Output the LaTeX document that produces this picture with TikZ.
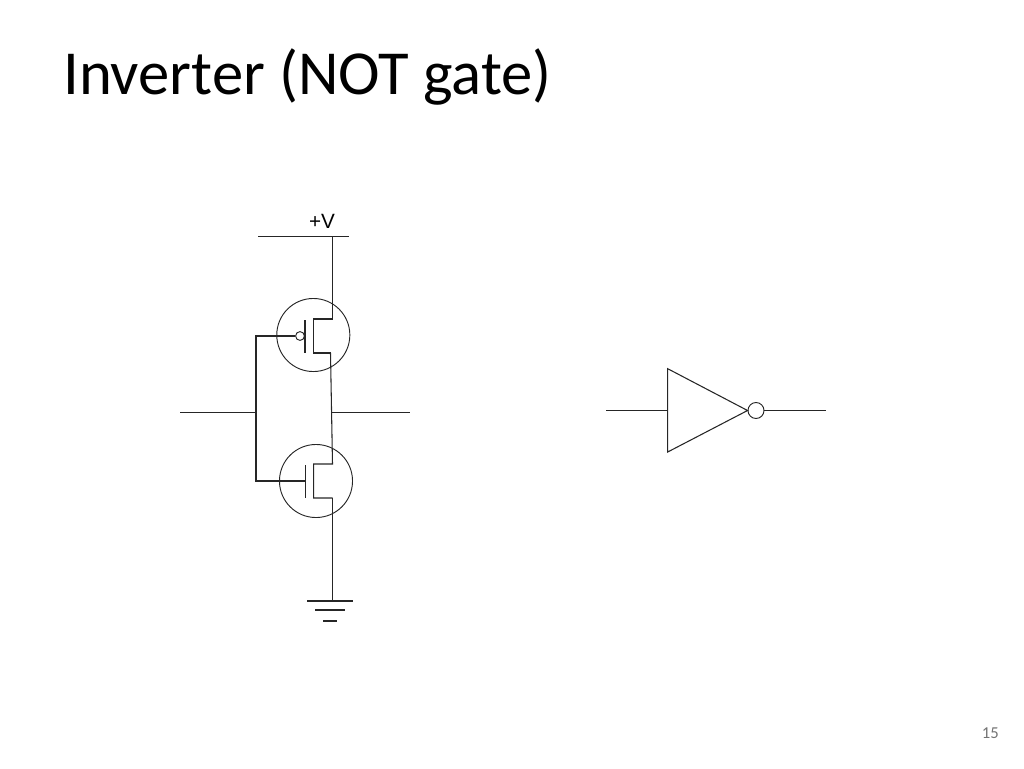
\documentclass[tikz,border=0pt]{standalone}
\usepackage{fontspec}
\setmainfont{Carlito}
\newfontfamily\labelfont{Liberation Sans}
\tikzset{
    wire/.style={line width=.8pt, color=black!85},
    mosring/.style={circle, draw, line width=.7pt, color=black!85, minimum size=54.8pt, inner sep=0pt},
    bubble/.style={circle, draw, line width=.7pt, color=black!85, inner sep=0pt}
}
\begin{document}
\begin{tikzpicture}[x=.75pt, y=-.75pt]
\useasboundingbox (0,0) rectangle (1024,768);

\node[anchor=base west, font=\fontsize{47}{56}\selectfont, inner sep=0pt] (title) at (63,94) {Inverter (NOT gate)};
\node[anchor=base east, font=\fontsize{12.5}{15}\selectfont, color=black!55, inner sep=0pt] (pagenum) at (999,738) {15};
\node[font=\labelfont\fontsize{15.5}{18}\selectfont, inner sep=0pt] (vlabel) at (322,221) {+V};

% supply rail
\coordinate (railL) at (258,236.5);
\coordinate (railR) at (349,236.5);
\coordinate (railT) at (332.5,236.5);
\draw[wire] (railL) -- (railR);

% upper transistor
\node[mosring] (ringP) at (313.3,335) {};
\node[bubble, minimum size=6.6pt] (bubP) at (300,336) {};
\coordinate (barPt) at (305,320);
\coordinate (barPb) at (305,353);
\coordinate (drainPa) at (313.5,319);
\coordinate (drainPb) at (332.5,319);
\coordinate (srcPa) at (313.5,353);
\coordinate (srcPb) at (330.5,353);
\draw[wire] (barPt) -- (barPb);
\draw[wire] (railT) -- (drainPb) -- (drainPa) -- (srcPa) -- (srcPb);

% lower transistor
\node[mosring] (ringN) at (316,481) {};
\coordinate (barNt) at (305.3,465);
\coordinate (barNb) at (305.3,498);
\coordinate (gateN) at (305.3,481);
\coordinate (drainNa) at (313.7,464);
\coordinate (drainNb) at (332.5,464);
\coordinate (srcNa) at (313.7,498);
\coordinate (srcNb) at (332.5,498);
\draw[wire] (barNt) -- (barNb);
\draw[wire] (srcPb) -- (drainNb) -- (drainNa) -- (srcNa) -- (srcNb);

% input and gates
\coordinate (gateJ) at (256,412.5);
\coordinate (inL) at (180,412.5);
\coordinate (gateP) at (256,336);
\coordinate (gateQ) at (256,481);
\draw[wire] (inL) -- (gateJ);
\draw[wire] (bubP.west) -- (gateP) -- (gateQ) -- (gateN);

% output
\coordinate (outL) at (332,412.5);
\coordinate (outR) at (410,412.5);
\draw[wire] (outL) -- (outR);

% ground
\coordinate (gndT) at (332.5,601);
\draw[wire] (srcNb) -- (gndT);
\foreach \y/\w in {601/23, 610/15, 621/7}
{
    \draw[wire] (330-\w,\y) -- (330+\w,\y);
}

% logic symbol
\coordinate (triT) at (667.7,368.7);
\coordinate (triB) at (667.7,452);
\coordinate (triM) at (667.7,410.5);
\coordinate (symIn) at (606,410.5);
\coordinate (symOut) at (826,410.5);
\node[bubble, minimum size=12pt] (bubInv) at (756,410.5) {};
\draw[wire] (triT) -- (triB) -- (bubInv.west) -- cycle;
\draw[wire] (symIn) -- (triM);
\draw[wire] (bubInv.east) -- (symOut);
\end{tikzpicture}
\end{document}
